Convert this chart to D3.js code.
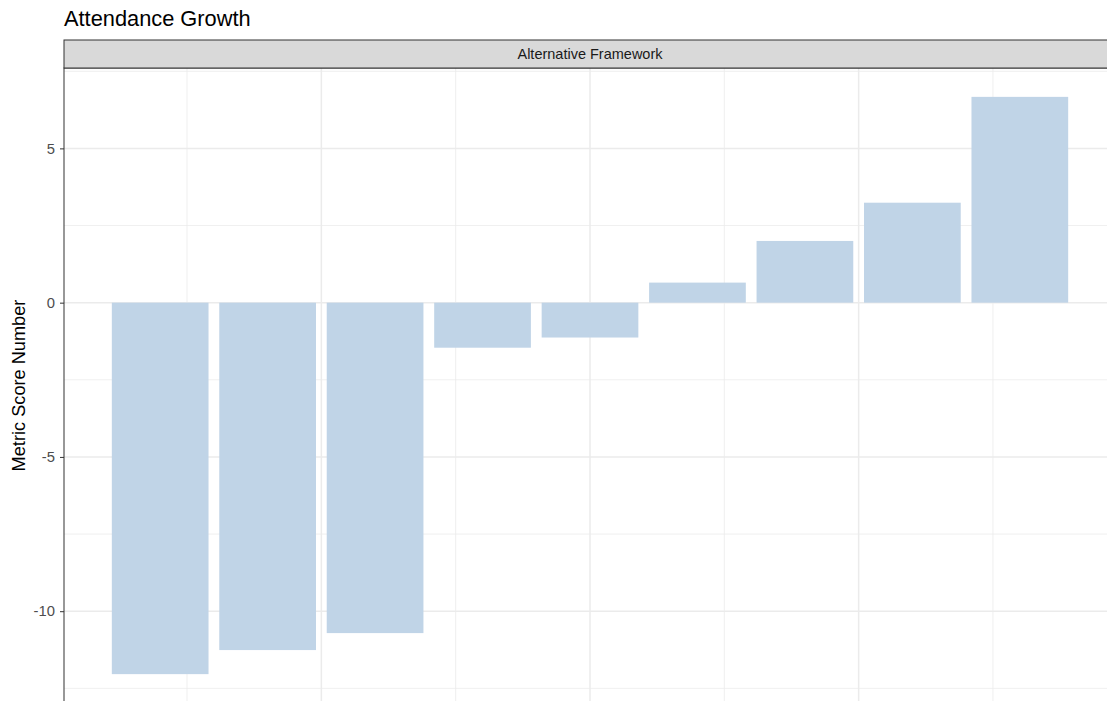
<!DOCTYPE html>
<html>
<head>
<meta charset="utf-8">
<style>
  body { margin: 0; background: #fff; }
  svg { display: block; font-family: "Liberation Sans", Arial, sans-serif; }
</style>
</head>
<body>
<svg id="chart"></svg>
<script src="https://cdn.jsdelivr.net/npm/d3@7"></script>
<script>
  // bar values, sorted ascending, placed at ranks 1..n
  const ranks = [1, 2, 3, 4, 5, 6, 7, 8, 9]
  const scores = [-12.04, -11.26, -10.71, -1.46, -1.13, 0.65, 2.0, 3.24, 6.67]
  const yTicks = [-10, -5, 0, 5]
  const yMinor = [-12.5, -7.5, -2.5, 2.5, 7.5]
  const xMajor = [2.5, 5, 7.5]
  const xMinor = [1.25, 3.75, 6.25, 8.75]

  const width = 1107, height = 701
  const panel = {left: 64, right: 1116, top: 68, bottom: 703}
  const strip = {top: 40, bottom: 68}

  const colors = {bar: '#c0d4e7', grid: '#ebebeb', border: '#333333',
                  strip: '#d9d9d9', tick: '#4d4d4d'}

  const svg = d3.select('#chart')
    .attr('width', width)
    .attr('height', height)

  // expand like ggplot: 5% on both sides of the data range
  const xExt = [0.55, 9.45]
  const xPad = (xExt[1] - xExt[0]) * 0.05
  const xScale = d3.scaleLinear()
    .domain([xExt[0] - xPad, xExt[1] + xPad])
    .range([panel.left, panel.right])

  const yExt = [d3.min(scores.concat(0)), d3.max(scores.concat(0))]
  const yPad = (yExt[1] - yExt[0]) * 0.05
  const yScale = d3.scaleLinear()
    .domain([yExt[0] - yPad, yExt[1] + yPad])
    .range([panel.bottom, panel.top])

  const g = svg.append('g')

  // minor grid
  g.selectAll('.ygm').data(yMinor).enter().append('line')
    .attr('x1', panel.left).attr('x2', panel.right)
    .attr('y1', d => yScale(d)).attr('y2', d => yScale(d))
    .attr('stroke', colors.grid).attr('stroke-width', 0.8)
  g.selectAll('.xgm').data(xMinor).enter().append('line')
    .attr('y1', panel.top).attr('y2', panel.bottom)
    .attr('x1', d => xScale(d)).attr('x2', d => xScale(d))
    .attr('stroke', colors.grid).attr('stroke-width', 0.8)

  // major grid
  g.selectAll('.yg').data(yTicks).enter().append('line')
    .attr('x1', panel.left).attr('x2', panel.right)
    .attr('y1', d => yScale(d)).attr('y2', d => yScale(d))
    .attr('stroke', colors.grid).attr('stroke-width', 1.5)
  g.selectAll('.xg').data(xMajor).enter().append('line')
    .attr('y1', panel.top).attr('y2', panel.bottom)
    .attr('x1', d => xScale(d)).attr('x2', d => xScale(d))
    .attr('stroke', colors.grid).attr('stroke-width', 1.5)

  // bars
  const bw = xScale(0.9) - xScale(0)
  g.selectAll('.bar').data(scores).enter().append('rect')
    .attr('x', (d, i) => xScale(ranks[i]) - bw / 2)
    .attr('width', bw)
    .attr('y', d => yScale(Math.max(0, d)))
    .attr('height', d => Math.abs(yScale(d) - yScale(0)))
    .attr('fill', colors.bar)

  // panel border
  g.append('rect')
    .attr('x', panel.left).attr('y', panel.top)
    .attr('width', panel.right - panel.left).attr('height', panel.bottom - panel.top)
    .attr('fill', 'none').attr('stroke', colors.border).attr('stroke-width', 1)

  // facet strip
  g.append('rect')
    .attr('x', panel.left).attr('y', strip.top)
    .attr('width', panel.right - panel.left).attr('height', strip.bottom - strip.top)
    .attr('fill', colors.strip).attr('stroke', colors.border).attr('stroke-width', 1)
  g.append('text')
    .attr('x', (panel.left + panel.right) / 2)
    .attr('y', (strip.top + strip.bottom) / 2 + 5)
    .attr('text-anchor', 'middle')
    .attr('font-size', 14.5)
    .attr('fill', '#1a1a1a')
    .text('Alternative Framework')

  // y axis
  const yAxis = d3.axisLeft(yScale)
    .tickValues(yTicks)
    .tickFormat(d => String(d))
    .tickSize(4)
    .tickPadding(5)
  const gy = svg.append('g')
    .attr('transform', `translate(${panel.left}, 0)`)
    .call(yAxis)
  gy.select('.domain').remove()
  gy.selectAll('.tick line').attr('stroke', colors.border).attr('stroke-width', 1)
  gy.selectAll('.tick text')
    .attr('fill', colors.tick)
    .attr('font-size', 14.8)
    .attr('font-family', '"Liberation Sans", Arial, sans-serif')

  svg.append('text')
    .attr('transform', `translate(25, ${(panel.top + panel.bottom) / 2}) rotate(-90)`)
    .attr('text-anchor', 'middle')
    .attr('font-size', 18.2)
    .attr('fill', '#000')
    .text('Metric Score Number')

  // title
  svg.append('text')
    .attr('x', panel.left)
    .attr('y', 26)
    .attr('font-size', 21.8)
    .attr('fill', '#000')
    .text('Attendance Growth')
</script>
</body>
</html>
